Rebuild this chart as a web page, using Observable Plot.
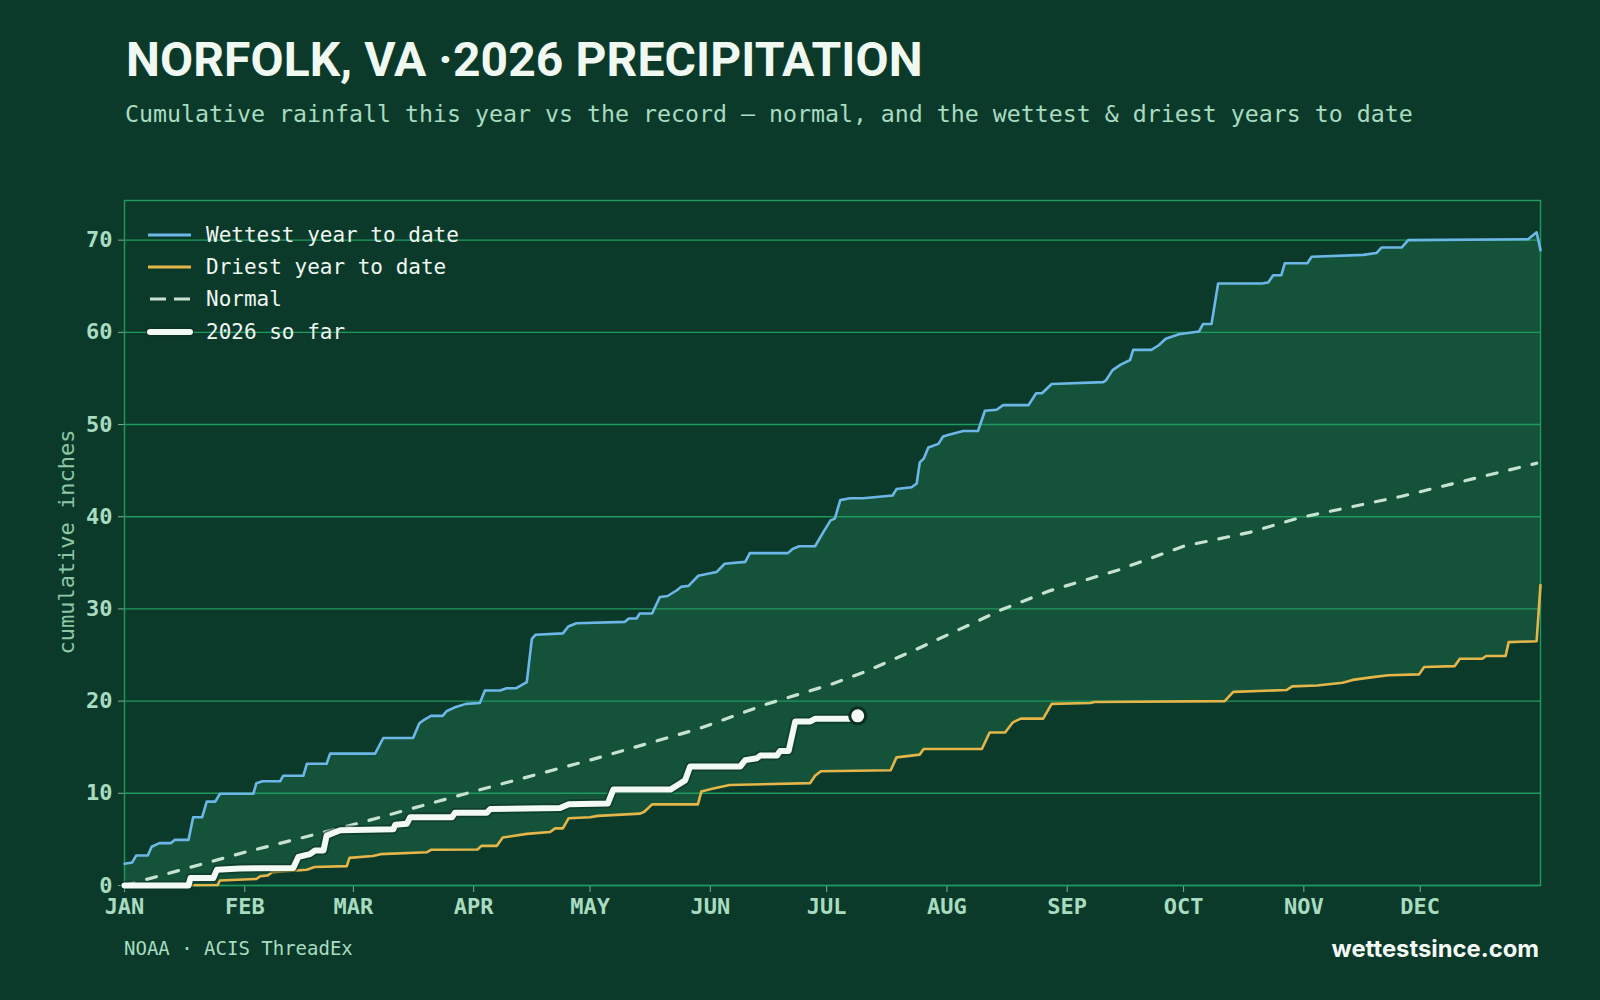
<!DOCTYPE html>
<html>
<head>
<meta charset="utf-8">
<script src="https://cdn.jsdelivr.net/npm/d3@7"></script>
<script src="https://cdn.jsdelivr.net/npm/@observablehq/plot@0.6"></script>
<style>
  html, body { margin: 0; padding: 0; background: #0c3a2a; }
  #wrap { position: relative; width: 1600px; height: 1000px; overflow: hidden; background: #0c3a2a; }
  .abs { position: absolute; white-space: nowrap; }
  #title { left: 126px; top: 36px; font-family: Roboto, Inter, sans-serif; font-weight: 700; font-size: 48px; line-height: 48px; color: #f0f8f2; letter-spacing: 0.1px; }
  #subtitle { left: 125px; top: 102px; font-family: "DejaVu Sans Mono", monospace; font-size: 23.25px; line-height: 23px; color: #a8dcc0; }
  #ylabel { left: 67px; top: 542px; font-family: "DejaVu Sans Mono", monospace; font-size: 22px; line-height: 22px; color: #8cc8a6; transform: translate(-50%, -50%) rotate(-90deg); }
  #caption { left: 124px; top: 939px; font-family: "DejaVu Sans Mono", monospace; font-size: 19px; line-height: 19px; color: #a8dcc0; }
  #site { right: 61px; top: 937px; font-family: Inter, sans-serif; font-weight: 700; font-size: 23.8px; line-height: 24px; color: #f4faf6; }
  #legend { left: 146px; top: 218.5px; }
  .row { display: flex; align-items: center; height: 32.4px; }
  .row span { font-family: "DejaVu Sans Mono", monospace; font-size: 21px; line-height: 32.4px; color: #eef7f1; margin-left: 12px; }
  #chart { position: absolute; left: 0; top: 160px; }
  #chart g[aria-label="x-axis tick"], #chart g[aria-label="y-axis tick"] { color: #86aa96; }
</style>
</head>
<body>
<div id="wrap">
  <div id="title" class="abs">NORFOLK, VA ·2026 PRECIPITATION</div>
  <div id="subtitle" class="abs">Cumulative rainfall this year vs the record — normal, and the wettest &amp; driest years to date</div>
  <div id="chart"></div>
  <div id="ylabel" class="abs">cumulative inches</div>
  <div id="legend" class="abs"></div>
  <div id="caption" class="abs">NOAA · ACIS ThreadEx</div>
  <div id="site" class="abs">wettestsince.com</div>
</div>
<script>
// ---- data: [day of year (0 = Jan 1), cumulative inches] ----
const wettest = [
  [0,2.35],[2,2.5],[3,3.25],[6,3.25],[7,4.2],[9,4.6],[12,4.6],[13,4.95],[16.5,4.95],[17.7,7.4],[20,7.4],
  [21.2,9.1],[23.4,9.1],[24.6,9.95],[33.2,9.95],[34,11.1],[35.6,11.3],[40.1,11.3],[40.9,11.9],[46.1,11.9],
  [47,13.2],[52.1,13.2],[53,14.3],[64.6,14.3],[66.7,16.0],[74.4,16.0],[76,17.6],[77,17.9],[79,18.4],[82,18.4],
  [83,18.9],[85,19.3],[88,19.7],[91.6,19.8],[92.9,21.15],[96.8,21.15],[98.5,21.4],[101,21.4],[103.7,22.05],
  [105,26.75],[106,27.2],[113,27.35],[114.4,28.1],[116.5,28.45],[129,28.6],[130,28.96],[132,28.96],[132.8,29.5],
  [136,29.5],[138,31.3],[140,31.4],[142.3,32.0],[143.5,32.4],[145.4,32.5],[147.9,33.6],[152.6,34.0],[154.7,34.9],
  [160,35.1],[161.2,36.05],[171,36.05],[172.2,36.5],[173.9,36.8],[178,36.8],[180.1,38.3],[182,39.6],[183.1,39.8],
  [184.5,41.8],[187,42.0],[190.4,42.0],[198,42.3],[199,43.0],[202.9,43.2],[204.2,43.6],[205,45.9],[206,46.3],
  [207.2,47.5],[209.8,47.9],[211,48.7],[212.5,48.9],[216.2,49.3],[220,49.3],[221.8,51.5],[224.8,51.6],[226.5,52.1],
  [233,52.1],[235,53.4],[236.5,53.4],[239,54.4],[252.3,54.6],[253,54.8],[254.7,55.9],[256.8,56.5],[259.2,57.0],
  [260,58.1],[264.7,58.1],[266.6,58.6],[268.4,59.3],[271.8,59.8],[277,60.1],[278,60.9],[280.2,60.9],[281.9,65.3],
  [293.1,65.3],[294.8,65.4],[296.1,66.2],[298.2,66.2],[299.1,67.5],[304.9,67.5],[306,68.2],[319.3,68.4],[322.7,68.6],
  [324,69.2],[329.2,69.2],[330.9,70.0],[361.8,70.1],[364,70.85],[365,68.9]
];
const driest = [
  [0,0],[24,0.05],[24.6,0.54],[34,0.7],[35,1.0],[37,1.1],[38,1.44],[47,1.7],[49,2.0],[57.3,2.1],[58,3.0],
  [64,3.2],[66,3.4],[77.9,3.6],[79,3.87],[91,3.9],[92,4.3],[96,4.3],[97.5,5.2],[103.7,5.6],[109.7,5.8],[111,6.2],
  [113,6.2],[114.5,7.3],[120,7.4],[122,7.55],[132.9,7.8],[134,8.0],[136,8.8],[147.8,8.8],[148.7,10.2],[151.5,10.5],
  [156,10.9],[176.7,11.1],[178,11.9],[179.5,12.4],[197.5,12.5],[199,13.9],[205,14.2],[206,14.8],[221,14.8],
  [223,16.6],[227,16.6],[229,17.7],[231,18.1],[236.8,18.1],[239,19.7],[249,19.8],[250,19.9],[283.6,20.0],
  [285.8,21.0],[299.5,21.2],[301,21.6],[307.4,21.7],[314,22.0],[316.6,22.3],[321.8,22.6],[325.8,22.8],[333.7,22.9],
  [335,23.7],[342.9,23.8],[344.2,24.6],[350,24.6],[351,24.9],[356,24.9],[356.8,26.4],[364,26.5],[365,32.6]
];
const normal = [
  [0,0],[31,3.6],[59,6.6],[90,10.2],[120,13.6],[148,17.0],[165,19.6],[182,21.8],[191,23.2],[204,25.6],
  [221,28.9],[226,29.9],[238,31.9],[256,34.2],[273,36.8],[290,38.3],[303,39.9],[329,42.2],[364,45.8]
];
const current2026 = [
  [0,0],[16.5,0],[17,0.8],[22.9,0.8],[23.8,1.7],[29.8,1.85],[43.5,1.9],[44.8,3.1],[47.8,3.4],[49.1,3.8],
  [51.3,3.8],[52.1,5.4],[55.6,6.0],[69.3,6.1],[69.8,6.6],[72.8,6.7],[73.6,7.4],[84.4,7.4],[85.2,7.9],[93.4,7.9],
  [94.3,8.3],[112.3,8.4],[114.5,8.8],[124.6,8.9],[126,10.4],[140.7,10.4],[142.4,10.85],[144.5,11.4],[145.8,12.9],
  [158.7,12.9],[160,13.6],[163,13.8],[163.9,14.1],[168.2,14.1],[169,14.6],[171.2,14.6],[172.9,17.8],[176.8,17.8],
  [178.1,18.1],[187.1,18.1],[189,18.4]
];
const yTicks = [0, 10, 20, 30, 40, 50, 60, 70];
const monthLabels = ["JAN","FEB","MAR","APR","MAY","JUN","JUL","AUG","SEP","OCT","NOV","DEC"];
const seriesNames = ["Wettest year to date", "Driest year to date", "Normal", "2026 so far"];

// ---- styling ----
const BG = "#0c3a2a", BAND = "#14523a", GRID = "#1f9a5f";
const BLUE = "#6db7e8", GOLD = "#e4b64a", NORMAL = "#c8e2d0", WHITE = "#f3faf5";

const base = Date.UTC(2026, 0, 1);
const toDate = d => new Date(base + d * 864e5);
const mk = arr => arr.map(([d, v]) => ({date: toDate(d), v}));
const monthTicks = monthLabels.map((m, i) => new Date(Date.UTC(2026, i, 1)));

const W = mk(wettest), D = mk(driest), N = mk(normal), C = mk(current2026);

const chart = Plot.plot({
  width: 1600,
  height: 780,
  marginLeft: 124,
  marginRight: 60,
  marginTop: 40,
  marginBottom: 55,
  style: {background: "transparent", color: "#a8dcc0", fontFamily: "'DejaVu Sans Mono', monospace", fontSize: "22px", fontWeight: "bold"},
  x: {type: "utc", domain: [toDate(0), toDate(365)], ticks: monthTicks, tickFormat: d => monthLabels[d.getUTCMonth()], tickSize: 7, tickPadding: 6, label: null},
  y: {domain: [0, 74.3], ticks: yTicks, tickSize: 6, tickPadding: 6, label: null},
  marks: [
    Plot.areaY(W, {x: "date", y: "v", fill: BAND}),
    Plot.areaY(D, {x: "date", y: "v", fill: BG}),
    Plot.ruleY(yTicks, {stroke: GRID, strokeWidth: 1.4}),
    Plot.frame({stroke: GRID, strokeWidth: 1.4}),
    Plot.lineY(N, {x: "date", y: "v", stroke: NORMAL, strokeWidth: 3.2, strokeDasharray: "10,13", strokeLinecap: "round"}),
    Plot.lineY(W, {x: "date", y: "v", stroke: BLUE, strokeWidth: 2.6}),
    Plot.lineY(D, {x: "date", y: "v", stroke: GOLD, strokeWidth: 2.6}),
    Plot.lineY(C, {x: "date", y: "v", stroke: "#0a2f22", strokeOpacity: 0.55, strokeWidth: 9.5}),
    Plot.lineY(C, {x: "date", y: "v", stroke: WHITE, strokeWidth: 6}),
    Plot.dot(C.slice(-1), {x: "date", y: "v", r: 8, fill: WHITE, stroke: "#0a2f22", strokeWidth: 3})
  ]
});
document.getElementById("chart").appendChild(chart);

// ---- legend ----
const swatches = [
  `<line x1="2" x2="45" y1="8" y2="8" stroke="${BLUE}" stroke-width="3"/>`,
  `<line x1="2" x2="45" y1="8" y2="8" stroke="${GOLD}" stroke-width="3"/>`,
  `<line x1="4" x2="44" y1="8" y2="8" stroke="${NORMAL}" stroke-width="3" stroke-dasharray="16,8"/>`,
  `<line x1="4" x2="44" y1="8" y2="8" stroke="#0a2f22" stroke-opacity="0.6" stroke-width="9" stroke-linecap="round"/><line x1="4" x2="44" y1="8" y2="8" stroke="${WHITE}" stroke-width="6" stroke-linecap="round"/>`
];
const legend = document.getElementById("legend");
seriesNames.forEach((name, i) => {
  const row = document.createElement("div");
  row.className = "row";
  row.innerHTML = `<svg width="48" height="16" style="display:block">${swatches[i]}</svg><span>${name}</span>`;
  legend.appendChild(row);
});
</script>
</body>
</html>
